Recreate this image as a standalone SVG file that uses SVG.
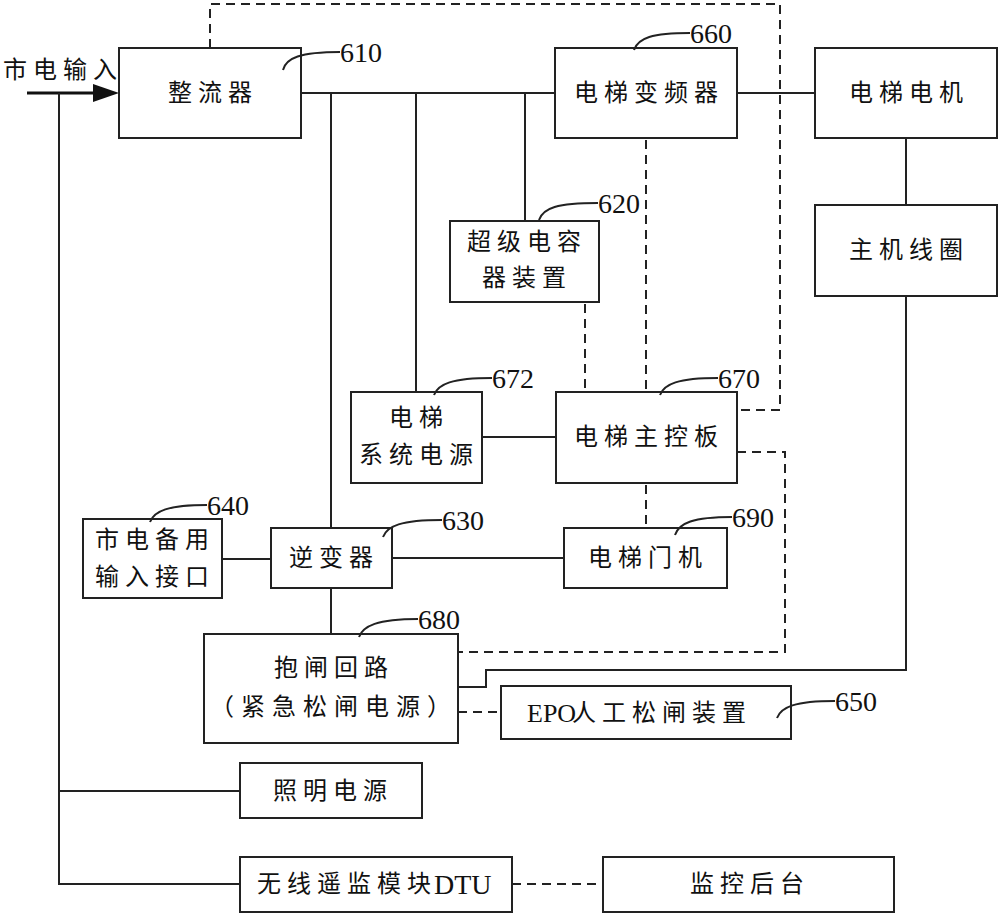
<svg xmlns="http://www.w3.org/2000/svg" width="1000" height="917" viewBox="0 0 1000 917">
<defs>
<style>
.box{fill:#fff;stroke:#222;stroke-width:2}
.ln{fill:none;stroke:#222;stroke-width:2}
.dash{fill:none;stroke:#222;stroke-width:2;stroke-dasharray:9 6}
.ld{fill:none;stroke:#222;stroke-width:2}
.t{font-family:"Liberation Serif","Noto Sans CJK SC",serif;font-size:24px;letter-spacing:6px;fill:#111;text-anchor:middle;dominant-baseline:central}
.s{font-family:"Liberation Serif","Noto Sans CJK SC",serif;font-size:24px;letter-spacing:6px;fill:#111;dominant-baseline:central}
.lat{font-size:26px;letter-spacing:0px}
.n{font-family:"Liberation Serif",serif;font-size:28px;fill:#111;dominant-baseline:central}
</style>
</defs>
<rect width="1000" height="917" fill="#fff"/>
<g id="connectors">
<line x1="27" y1="93" x2="96" y2="93" stroke="#111" stroke-width="3"/>
<polygon points="93,84 119,93 93,102" fill="#111"/>
<polyline class="ln" points="59,93 59,884 240,884"/>
<line class="ln" x1="59" y1="791" x2="240" y2="791"/>
<line class="ln" x1="301" y1="93" x2="555" y2="93"/>
<line class="ln" x1="331" y1="93" x2="331" y2="528"/>
<line class="ln" x1="416" y1="93" x2="416" y2="392"/>
<line class="ln" x1="525" y1="93" x2="525" y2="221"/>
<line class="ln" x1="737" y1="93" x2="815" y2="93"/>
<line class="ln" x1="906" y1="138" x2="906" y2="205"/>
<polyline class="ln" points="906,296 906,670 486,670 486,687 458,687"/>
<line class="ln" x1="482" y1="437" x2="556" y2="437"/>
<line class="ln" x1="222" y1="559" x2="271" y2="559"/>
<line class="ln" x1="392" y1="558" x2="564" y2="558"/>
<line class="ln" x1="331" y1="588" x2="331" y2="634"/>
<polyline class="dash" points="210,48 210,4 780,4 780,410 737,410"/>
<line class="dash" x1="646" y1="140" x2="646" y2="392"/>
<line class="dash" x1="585" y1="304" x2="585" y2="392"/>
<polyline class="dash" points="737,452 785,452 785,652 458,652"/>
<line class="dash" x1="646" y1="485" x2="646" y2="528"/>
<line class="dash" x1="458" y1="712" x2="501" y2="712"/>
<line class="dash" x1="512" y1="884" x2="603" y2="884"/>
</g>
<text class="t" x="63" y="70">市电输入</text>
<g id="n610">
<rect class="box" x="119" y="48" width="182" height="90"/>
<text class="t" x="213" y="93">整流器</text>
<path class="ld" d="M283,70 C286,58 300,52 340,52"/>
<text class="n" x="340" y="52">610</text>
</g>
<g id="n660">
<rect class="box" x="555" y="48" width="182" height="90"/>
<text class="t" x="649" y="93">电梯变频器</text>
<path class="ld" d="M634,50 C638,38 652,33 690,33"/>
<text class="n" x="690" y="33">660</text>
</g>
<g id="motor">
<rect class="box" x="815" y="48" width="182" height="90"/>
<text class="t" x="909" y="93">电梯电机</text>
</g>
<g id="coil">
<rect class="box" x="815" y="205" width="182" height="91"/>
<text class="t" x="909" y="250">主机线圈</text>
</g>
<g id="n620">
<rect class="box" x="450" y="221" width="149" height="81"/>
<text class="t" x="527" y="242">超级电容</text>
<text class="t" x="527" y="278">器装置</text>
<path class="ld" d="M539,220 C543,208 557,203 598,203"/>
<text class="n" x="598" y="203">620</text>
</g>
<g id="n672">
<rect class="box" x="351" y="392" width="131" height="91"/>
<text class="t" x="419" y="418">电梯</text>
<text class="t" x="419" y="455">系统电源</text>
<path class="ld" d="M434,395 C438,384 452,378 492,378"/>
<text class="n" x="492" y="378">672</text>
</g>
<g id="n670">
<rect class="box" x="556" y="392" width="181" height="91"/>
<text class="t" x="649" y="437">电梯主控板</text>
<path class="ld" d="M660,395 C664,384 678,378 718,378"/>
<text class="n" x="718" y="378">670</text>
</g>
<g id="n640">
<rect class="box" x="83" y="519" width="139" height="79"/>
<text class="t" x="155" y="540">市电备用</text>
<text class="t" x="155" y="577">输入接口</text>
<path class="ld" d="M150,522 C154,511 168,505 207,505"/>
<text class="n" x="207" y="505">640</text>
</g>
<g id="n630">
<rect class="box" x="271" y="528" width="121" height="60"/>
<text class="t" x="334" y="558">逆变器</text>
<path class="ld" d="M383,537 C387,526 401,520 442,520"/>
<text class="n" x="442" y="520">630</text>
</g>
<g id="n690">
<rect class="box" x="564" y="528" width="163" height="60"/>
<text class="t" x="648" y="558">电梯门机</text>
<path class="ld" d="M675,535 C679,523 693,517 732,517"/>
<text class="n" x="732" y="517">690</text>
</g>
<g id="n680">
<rect class="box" x="204" y="634" width="254" height="109"/>
<text class="t" x="334" y="668">抱闸回路</text>
<text class="t" x="334" y="707" style="letter-spacing:7px">（紧急松闸电源）</text>
<path class="ld" d="M359,637 C363,626 377,619 418,619"/>
<text class="n" x="418" y="619">680</text>
</g>
<g id="n650">
<rect class="box" x="501" y="686" width="290" height="53"/>
<text class="s" x="527" y="713"><tspan class="lat">EPO</tspan><tspan x="572">人工松闸装置</tspan></text>
<path class="ld" d="M777,718 C781,707 795,701 835,701"/>
<text class="n" x="835" y="701">650</text>
</g>
<g id="lighting">
<rect class="box" x="240" y="763" width="182" height="55"/>
<text class="t" x="333" y="791">照明电源</text>
</g>
<g id="dtu">
<rect class="box" x="240" y="857" width="272" height="55"/>
<text class="s" x="257" y="884">无线遥监模块<tspan class="lat" x="434" style="font-size:28px">DTU</tspan></text>
</g>
<g id="monitor">
<rect class="box" x="603" y="857" width="291" height="55"/>
<text class="t" x="750" y="884">监控后台</text>
</g>
</svg>
